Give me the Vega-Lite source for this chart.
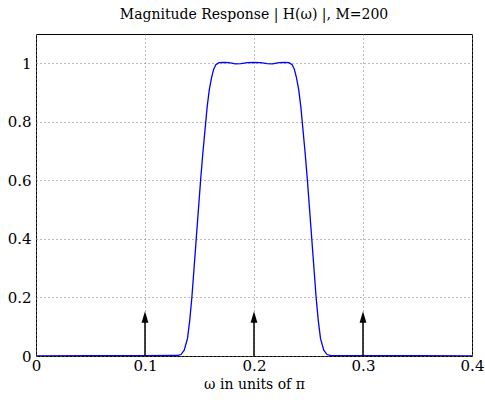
{
  "$schema": "https://vega.github.io/schema/vega-lite/v6.json",
  "autosize": {"type": "none"},
  "width": 436,
  "height": 322,
  "padding": {"left": 36, "top": 34, "right": 13, "bottom": 46},
  "background": "white",
  "title": {
    "text": "Magnitude Response | H(ω) |,  M=200",
    "font": "DejaVu Serif",
    "fontSize": 14,
    "fontWeight": "normal",
    "color": "black",
    "offset": 12,
    "anchor": "middle"
  },
  "config": {
    "view": {"stroke": "black", "strokeWidth": 1},
    "axis": {
      "labelFont": "DejaVu Serif",
      "labelFontSize": 15,
      "labelColor": "black",
      "titleFont": "DejaVu Serif",
      "titleFontSize": 14,
      "titleFontWeight": "normal",
      "titleColor": "black",
      "domain": false,
      "ticks": false,
      "grid": true,
      "gridColor": "#777777",
      "gridDash": [1, 3],
      "gridWidth": 1
    }
  },
  "datasets": {
    "curve": [
      {"w": 0, "h": 0}, {"w": 0.05, "h": 0.001}, {"w": 0.1, "h": 0.001}, {"w": 0.125, "h": 0.002},
      {"w": 0.13, "h": 0.002}, {"w": 0.133, "h": 0.005}, {"w": 0.136, "h": 0.02}, {"w": 0.139, "h": 0.06},
      {"w": 0.141, "h": 0.12}, {"w": 0.143, "h": 0.2}, {"w": 0.145, "h": 0.3}, {"w": 0.147, "h": 0.4},
      {"w": 0.149, "h": 0.5}, {"w": 0.151, "h": 0.6}, {"w": 0.153, "h": 0.69}, {"w": 0.155, "h": 0.77},
      {"w": 0.157, "h": 0.85}, {"w": 0.159, "h": 0.91}, {"w": 0.161, "h": 0.95}, {"w": 0.163, "h": 0.98},
      {"w": 0.165, "h": 0.995}, {"w": 0.168, "h": 1.002}, {"w": 0.172, "h": 1.003}, {"w": 0.177, "h": 1.002},
      {"w": 0.183, "h": 0.998}, {"w": 0.188, "h": 0.999}, {"w": 0.194, "h": 1.002}, {"w": 0.2, "h": 1.003},
      {"w": 0.206, "h": 1.002}, {"w": 0.212, "h": 0.999}, {"w": 0.217, "h": 0.998}, {"w": 0.223, "h": 1.002},
      {"w": 0.228, "h": 1.003}, {"w": 0.232, "h": 1.002}, {"w": 0.235, "h": 0.995}, {"w": 0.237, "h": 0.98},
      {"w": 0.239, "h": 0.95}, {"w": 0.241, "h": 0.91}, {"w": 0.243, "h": 0.85}, {"w": 0.245, "h": 0.77},
      {"w": 0.247, "h": 0.69}, {"w": 0.249, "h": 0.6}, {"w": 0.251, "h": 0.5}, {"w": 0.253, "h": 0.4},
      {"w": 0.255, "h": 0.3}, {"w": 0.257, "h": 0.2}, {"w": 0.259, "h": 0.12}, {"w": 0.261, "h": 0.06},
      {"w": 0.264, "h": 0.02}, {"w": 0.267, "h": 0.005}, {"w": 0.27, "h": 0.002}, {"w": 0.3, "h": 0.001},
      {"w": 0.35, "h": 0.001}, {"w": 0.4, "h": 0}
    ],
    "arrows": [
      {"w": 0.1, "base": 0, "top": 0.12, "head": 0.133},
      {"w": 0.2, "base": 0, "top": 0.12, "head": 0.133},
      {"w": 0.3, "base": 0, "top": 0.12, "head": 0.133}
    ]
  },
  "layer": [
    {
      "data": {"name": "curve"},
      "mark": {"type": "line", "color": "#0000ff", "strokeWidth": 1.3, "clip": true},
      "encoding": {
        "x": {
          "field": "w", "type": "quantitative",
          "scale": {"domain": [0, 0.4], "nice": false},
          "axis": {"values": [0, 0.1, 0.2, 0.3, 0.4], "format": "~g", "title": "ω in units of π", "labelPadding": 2, "titlePadding": 4, "labelFlush": false}
        },
        "y": {
          "field": "h", "type": "quantitative",
          "scale": {"domain": [0, 1.1], "nice": false},
          "axis": {"values": [0, 0.2, 0.4, 0.6, 0.8, 1], "format": "~g", "title": null, "labelPadding": 5, "labelFlush": false}
        }
      }
    },
    {
      "data": {"name": "arrows"},
      "mark": {"type": "rule", "color": "black", "strokeWidth": 1.5},
      "encoding": {
        "x": {"field": "w", "type": "quantitative"},
        "y": {"field": "base", "type": "quantitative"},
        "y2": {"field": "top"}
      }
    },
    {
      "data": {"name": "arrows"},
      "mark": {"type": "point", "shape": "M -0.6 1 L 0 -1 L 0.6 1 Z", "filled": true, "color": "black", "opacity": 1, "size": 130},
      "encoding": {
        "x": {"field": "w", "type": "quantitative"},
        "y": {"field": "head", "type": "quantitative"}
      }
    }
  ]
}
